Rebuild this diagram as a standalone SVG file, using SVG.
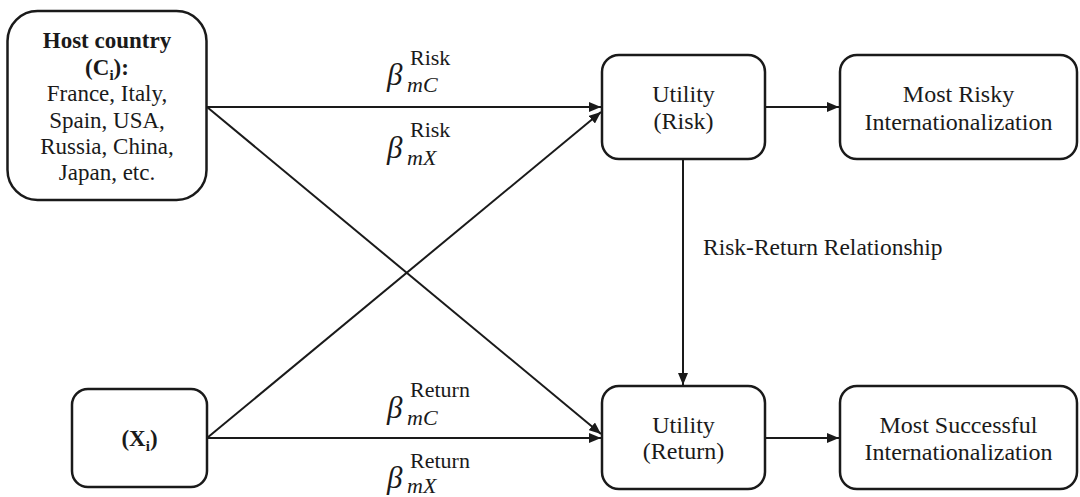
<svg xmlns="http://www.w3.org/2000/svg" width="1080" height="497" viewBox="0 0 1080 497">
<style>
.box{fill:#fff;stroke:#1a1a1a;stroke-width:2.5}
text{font-family:'Liberation Serif','Times New Roman',Times,serif;fill:#1a1a1a}
.t{text-anchor:middle}
.b{font-weight:bold}
.conn{stroke:#1a1a1a;stroke-width:2;fill:none}
.beta{font-style:italic;font-size:31px}
.sup{font-size:22px}
.sub{font-size:22px;font-style:italic}
</style>
<defs>
<marker id="ah" viewBox="0 0 12 10" refX="12" refY="5" markerWidth="12" markerHeight="10" markerUnits="userSpaceOnUse" orient="auto">
<path d="M0,0 L12,5 L0,10 z" fill="#1a1a1a"/>
</marker>
</defs>
<rect width="1080" height="497" fill="#fff"/>
<g id="connectors">
<line class="conn" x1="207" y1="107" x2="601" y2="107" marker-end="url(#ah)"/>
<line class="conn" x1="207" y1="107" x2="601" y2="434" marker-end="url(#ah)"/>
<line class="conn" x1="207" y1="438" x2="601" y2="112" marker-end="url(#ah)"/>
<line class="conn" x1="207" y1="438" x2="601" y2="438" marker-end="url(#ah)"/>
<line class="conn" x1="765" y1="107" x2="839" y2="107" marker-end="url(#ah)"/>
<line class="conn" x1="765" y1="438" x2="839" y2="438" marker-end="url(#ah)"/>
<line class="conn" x1="683" y1="159" x2="683" y2="385" marker-end="url(#ah)"/>
</g>
<g id="host">
<rect class="box" x="7.5" y="11" width="199" height="189" rx="30"/>
<text class="t b" x="107" y="48" font-size="23" font-family="Liberation Serif">Host country</text>
<text class="t b" x="107" y="75" font-size="23" font-family="Liberation Serif">(C<tspan font-size="15" dy="5">i</tspan><tspan dy="-5">):</tspan></text>
<text class="t" x="107" y="101" font-size="23" font-family="Liberation Serif">France, Italy,</text>
<text class="t" x="107" y="128" font-size="23" font-family="Liberation Serif">Spain, USA,</text>
<text class="t" x="107" y="154" font-size="23" font-family="Liberation Serif">Russia, China,</text>
<text class="t" x="107" y="180" font-size="23" font-family="Liberation Serif">Japan, etc.</text>
</g>
<g id="xi">
<rect class="box" x="72" y="389" width="135" height="98" rx="16"/>
<text class="t b" x="139.5" y="446" font-size="23" font-family="Liberation Serif">(X<tspan font-size="15" dy="5">i</tspan><tspan dy="-5">)</tspan></text>
</g>
<g id="utility-risk">
<rect class="box" x="602" y="55" width="163" height="104" rx="17"/>
<text class="t" x="683.5" y="102" font-size="24" font-family="Liberation Serif">Utility</text>
<text class="t" x="683.5" y="129" font-size="24" font-family="Liberation Serif">(Risk)</text>
</g>
<g id="utility-return">
<rect class="box" x="602" y="386" width="163" height="103" rx="17"/>
<text class="t" x="683.5" y="433" font-size="24" font-family="Liberation Serif">Utility</text>
<text class="t" x="683.5" y="459" font-size="24" font-family="Liberation Serif">(Return)</text>
</g>
<g id="most-risky">
<rect class="box" x="840" y="55" width="237" height="104" rx="17"/>
<text class="t" x="958.5" y="102" font-size="24" font-family="Liberation Serif">Most Risky</text>
<text class="t" x="958.5" y="130" font-size="24" font-family="Liberation Serif">Internationalization</text>
</g>
<g id="most-successful">
<rect class="box" x="840" y="386" width="237" height="103" rx="17"/>
<text class="t" x="958.5" y="433" font-size="24" font-family="Liberation Serif">Most Successful</text>
<text class="t" x="958.5" y="460" font-size="24" font-family="Liberation Serif">Internationalization</text>
</g>
<g id="labels">
<text x="703" y="255" font-size="23.5" font-family="Liberation Serif">Risk-Return Relationship</text>
<text class="beta" x="387" y="85" font-family="Liberation Serif">β</text>
<text class="sup" x="410" y="65" font-family="Liberation Serif">Risk</text>
<text class="sub" x="407" y="92" font-family="Liberation Serif">mC</text>
<text class="beta" x="387" y="158" font-family="Liberation Serif">β</text>
<text class="sup" x="410" y="137" font-family="Liberation Serif">Risk</text>
<text class="sub" x="407" y="165" font-family="Liberation Serif">mX</text>
<text class="beta" x="387" y="418" font-family="Liberation Serif">β</text>
<text class="sup" x="410" y="397" font-family="Liberation Serif">Return</text>
<text class="sub" x="407" y="425" font-family="Liberation Serif">mC</text>
<text class="beta" x="387" y="488" font-family="Liberation Serif">β</text>
<text class="sup" x="410" y="468" font-family="Liberation Serif">Return</text>
<text class="sub" x="407" y="493" font-family="Liberation Serif">mX</text>
</g>
</svg>
